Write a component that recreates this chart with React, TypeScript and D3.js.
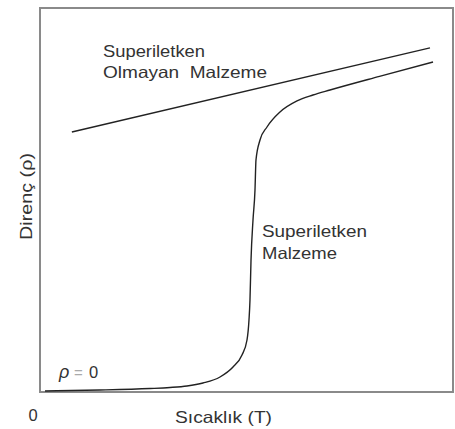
import React from 'react';
import * as d3 from 'd3';

// normal (non-superconducting) material: straight line
const normalT = [7.7, 94.2];
const normalRho = [67.7, 89.6];

// superconductor: resistance drops to zero below Tc
const superT = [1.21, 14.49, 26.57, 31.4, 35.51, 39.37, 43.48, 46.62, 48.79, 50.0, 50.48, 50.72, 50.97, 51.45, 51.93, 52.17, 53.14, 54.83, 57.97, 62.08, 65.94, 70.05, 82.0, 94.93];
const superRho = [0.26, 0.52, 0.91, 1.17, 1.56, 2.34, 3.91, 6.51, 9.64, 13.54, 18.75, 23.96, 34.38, 44.79, 52.6, 60.42, 65.63, 69.01, 72.92, 75.8, 77.34, 78.65, 82.2, 85.94];

const xLabel = 'Sıcaklık (T)';
const yLabel = 'Direnç (ρ)';
const originLabel = '0';

const App = () => {
  const width = 455;
  const height = 429;
  const margin = { top: 8, right: 1, bottom: 37, left: 40 };

  const x = d3.scaleLinear().domain([0, 100]).range([margin.left, width - margin.right]);
  const y = d3.scaleLinear().domain([0, 100]).range([height - margin.bottom, margin.top]);

  const line = d3.line<[number, number]>()
    .x(d => x(d[0]))
    .y(d => y(d[1]));

  const normalPath = line(normalT.map((t, i) => [t, normalRho[i]]));
  const superPath = line.curve(d3.curveMonotoneX)(superT.map((t, i) => [t, superRho[i]]));

  const font = '"Liberation Sans", Arial, sans-serif';
  const textColor = '#333';

  return (
    <svg width={width} height={height} style={{ position: 'absolute', left: 0, top: 0, background: '#fff' }}>
      {/* frame */}
      <rect x={x(0)} y={y(100)} width={x(100) - x(0) - 1} height={y(0) - y(100)}
        fill="none" stroke="#8a8a8a" strokeWidth={2} />

      <path d={normalPath || ''} fill="none" stroke="#222" strokeWidth={1.4} />
      <path d={superPath || ''} fill="none" stroke="#222" strokeWidth={1.4} />

      <g fontFamily={font} fontSize={16.5} fill={textColor}>
        <text x={103} y={57} textLength={102} lengthAdjust="spacingAndGlyphs">Superiletken</text>
        <text x={103} y={78} textLength={164} lengthAdjust="spacingAndGlyphs" style={{ whiteSpace: 'pre' }}>Olmayan  Malzeme</text>
        <text x={262} y={237} textLength={105} lengthAdjust="spacingAndGlyphs">Superiletken</text>
        <text x={262} y={259} textLength={75} lengthAdjust="spacingAndGlyphs">Malzeme</text>
        <text x={59} y={378} fontStyle="italic" fontSize={18}>ρ</text>
        <text x={74} y={378} fill="#aaa" fontSize={15}>=</text>
        <text x={89} y={378}>0</text>
        <text x={33} y={421} textAnchor="middle">{originLabel}</text>
        <text x={175} y={423} textLength={97} lengthAdjust="spacingAndGlyphs">{xLabel}</text>
        <text transform={`translate(32,${240}) rotate(-90)`} textLength={87} lengthAdjust="spacingAndGlyphs">{yLabel}</text>
      </g>
    </svg>
  );
};

export default App;
